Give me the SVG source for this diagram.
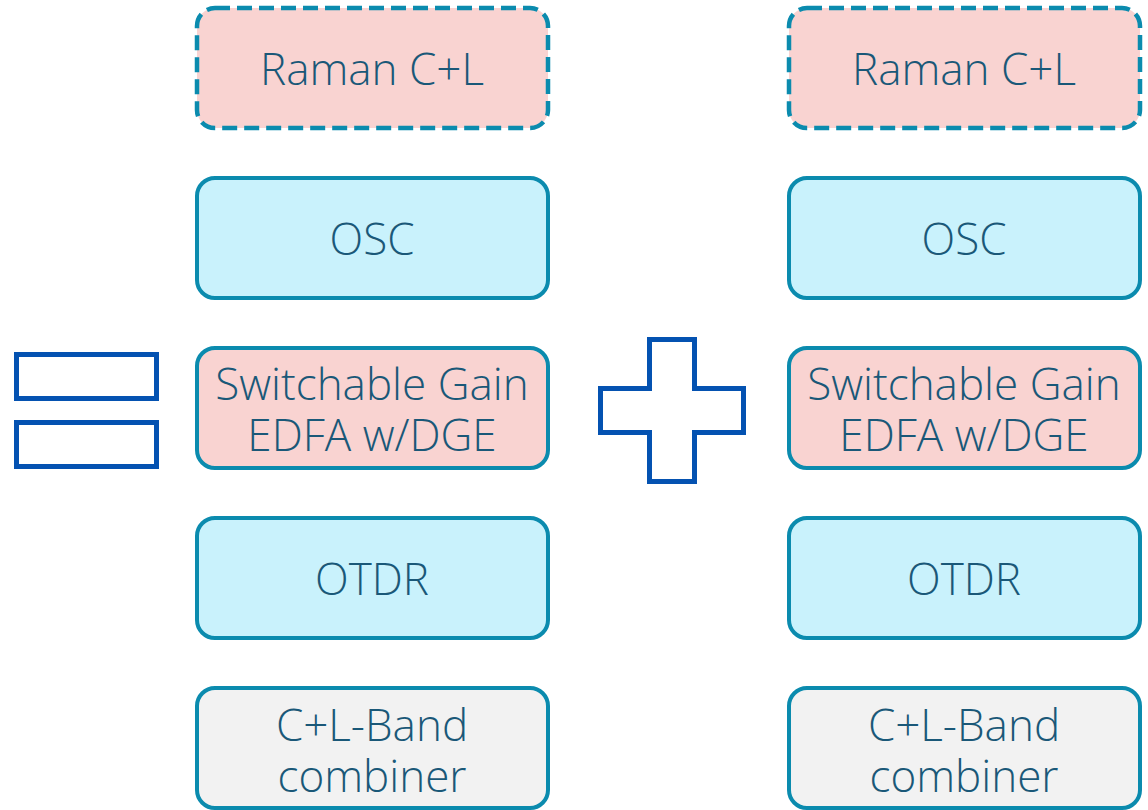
<svg xmlns="http://www.w3.org/2000/svg" width="1148" height="810" viewBox="0 0 1148 810">
  <style>
    .box { stroke: #0b8bae; stroke-width: 4; }
    .dash { stroke-dasharray: 15 7; stroke-width: 4.5; }
    .pink { fill: #f9d3d1; }
    .blue { fill: #c9f2fc; }
    .gray { fill: #f2f2f2; }
    .lbl { font-family: "Open Sans", "Liberation Sans", sans-serif; font-weight: 300; font-size: 44px; fill: #1a5878; text-anchor: middle; }
    .sym { fill: #ffffff; stroke: #0452b1; stroke-width: 5; }
  </style>
  <rect width="1148" height="810" fill="#ffffff"/>

  <!-- left stack -->
  <g id="raman-left">
    <rect class="box dash pink" x="197" y="8" width="351" height="120" rx="18"/>
    <text class="lbl" x="372" y="85">Raman C+L</text>
  </g>
  <g id="osc-left">
    <rect class="box blue" x="197" y="178" width="351" height="120" rx="18"/>
    <text class="lbl" x="372" y="255">OSC</text>
  </g>
  <g id="edfa-left">
    <rect class="box pink" x="197" y="348" width="351" height="120" rx="18"/>
    <text class="lbl" x="372" y="400">Switchable Gain</text>
    <text class="lbl" x="372" y="451">EDFA w/DGE</text>
  </g>
  <g id="otdr-left">
    <rect class="box blue" x="197" y="518" width="351" height="120" rx="18"/>
    <text class="lbl" x="372" y="595">OTDR</text>
  </g>
  <g id="combiner-left">
    <rect class="box gray" x="197" y="688" width="351" height="120" rx="18"/>
    <text class="lbl" x="372" y="741">C+L-Band</text>
    <text class="lbl" x="372" y="792">combiner</text>
  </g>

  <!-- right stack -->
  <g id="raman-right">
    <rect class="box dash pink" x="789" y="8" width="351" height="120" rx="18"/>
    <text class="lbl" x="964" y="85">Raman C+L</text>
  </g>
  <g id="osc-right">
    <rect class="box blue" x="789" y="178" width="351" height="120" rx="18"/>
    <text class="lbl" x="964" y="255">OSC</text>
  </g>
  <g id="edfa-right">
    <rect class="box pink" x="789" y="348" width="351" height="120" rx="18"/>
    <text class="lbl" x="964" y="400">Switchable Gain</text>
    <text class="lbl" x="964" y="451">EDFA w/DGE</text>
  </g>
  <g id="otdr-right">
    <rect class="box blue" x="789" y="518" width="351" height="120" rx="18"/>
    <text class="lbl" x="964" y="595">OTDR</text>
  </g>
  <g id="combiner-right">
    <rect class="box gray" x="789" y="688" width="351" height="120" rx="18"/>
    <text class="lbl" x="964" y="741">C+L-Band</text>
    <text class="lbl" x="964" y="792">combiner</text>
  </g>

  <!-- equals and plus symbols -->
  <g id="equals">
    <rect class="sym" x="16.5" y="354.5" width="140" height="44"/>
    <rect class="sym" x="16.5" y="422.5" width="140" height="44"/>
  </g>
  <g id="plus">
    <path class="sym" d="M649.5 339.5 H694.5 V388.5 H743.5 V432.5 H694.5 V481.5 H649.5 V432.5 H600.5 V388.5 H649.5 Z"/>
  </g>

  <g id="connectors"></g>
</svg>
